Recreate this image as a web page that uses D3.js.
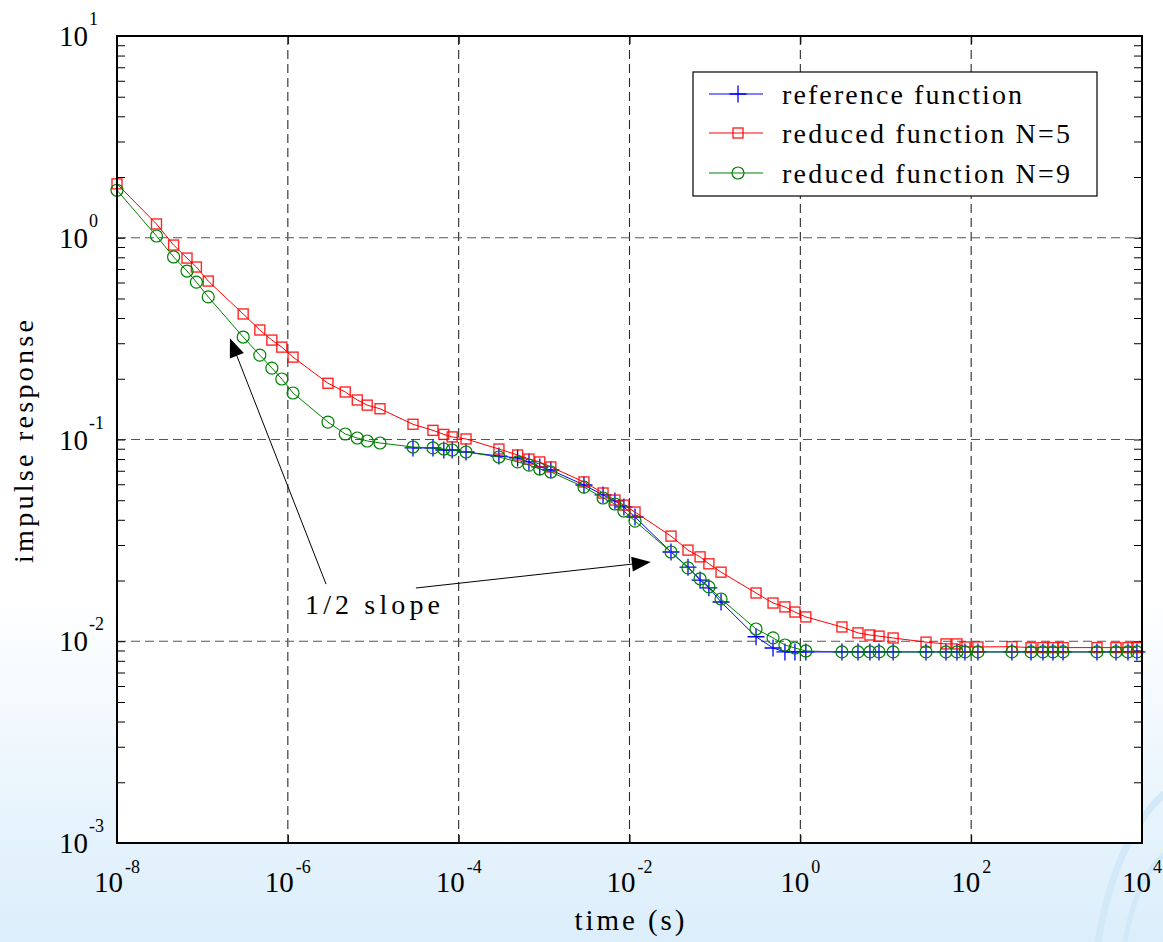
<!DOCTYPE html>
<html><head><meta charset="utf-8">
<script src="https://cdn.jsdelivr.net/npm/d3@7"></script>
<style>body{margin:0;background:#fff;} text{font-family:"Liberation Serif","Times New Roman",serif;fill:#000;}</style>
</head><body><svg id="chart" width="1163" height="942" font-family="Liberation Serif, Times New Roman, serif"></svg>
<script>
// ---- data ----
const timeValues = [
  1e-8, 2.9e-8, 4.6e-8, 6.6e-8, 8.5e-8,
  1.17e-7, 3.0e-7, 4.7e-7, 6.5e-7, 8.5e-7,
  1.15e-6, 2.95e-6, 4.7e-6, 6.5e-6, 8.5e-6,
  1.2e-5, 2.92e-5, 5.0e-5, 6.7e-5, 8.4e-5,
  1.22e-4, 2.96e-4, 4.9e-4, 6.65e-4, 8.9e-4,
  1.2e-3, 2.93e-3, 4.9e-3, 6.75e-3, 8.6e-3,
  1.16e-2, 3.06e-2, 4.84e-2, 6.7e-2, 8.5e-2,
  0.118, 0.303, 0.479, 0.66, 0.865,
  1.16, 3.07, 4.73, 6.53, 8.34,
  12.2, 29.6, 50.7, 68.2, 84.6,
  120, 300, 502, 692, 907,
  1190, 2970, 4960, 6850, 8720
];
const refValues = [
  null, null, null, null, null,
  null, null, null, null, null,
  null, null, null, null, null,
  null, 0.0908, 0.0908, 0.0887, 0.0887,
  0.0867, 0.0828, 0.081, 0.0774, 0.0731,
  0.0706, 0.0595, 0.0531, 0.0496, 0.0463,
  0.0413, 0.0277, 0.0233, 0.0201, 0.0184,
  0.01565, 0.01053, 0.00926, 0.00885, 0.00885,
  0.00885, 0.00885, 0.00885, 0.00885, 0.00885,
  0.00885, 0.00885, 0.00885, 0.00885, 0.00885,
  0.00885, 0.00885, 0.00885, 0.00885, 0.00885,
  0.00885, 0.00885, 0.00885, 0.00885, 0.00885
];
const n5Values = [
  1.85, 1.17, 0.92, 0.793, 0.716,
  0.61, 0.419, 0.349, 0.311, 0.287,
  0.256, 0.19, 0.172, 0.157, 0.148,
  0.142, 0.119, 0.111, 0.106, 0.103,
  0.1006, 0.0897, 0.0838, 0.080, 0.0774,
  0.0731, 0.0616, 0.0543, 0.0501, 0.0473,
  0.0437, 0.0332, 0.0283, 0.0262, 0.0242,
  0.022, 0.01735, 0.01547, 0.0148, 0.01396,
  0.0132, 0.01177, 0.011, 0.01074, 0.0106,
  0.01038, 0.0099, 0.0097, 0.0097, 0.00937,
  0.00937, 0.0094, 0.0093, 0.0093, 0.0093,
  0.0093, 0.0093, 0.0093, 0.0093, 0.0093
];
const n9Values = [
  1.72, 1.02, 0.803, 0.684, 0.603,
  0.509, 0.322, 0.262, 0.226, 0.1995,
  0.170, 0.122, 0.1065, 0.1017, 0.0983,
  0.0961, 0.0918, 0.0908, 0.0897, 0.0887,
  0.0867, 0.0819, 0.0774, 0.0747, 0.0714,
  0.069, 0.0581, 0.0513, 0.0479, 0.0442,
  0.0394, 0.0277, 0.0231, 0.0204, 0.0186,
  0.0162, 0.0115, 0.0104, 0.00958, 0.00926,
  0.00895, 0.00885, 0.00885, 0.00885, 0.00885,
  0.00885, 0.00885, 0.00885, 0.00885, 0.00885,
  0.00885, 0.00885, 0.00885, 0.00885, 0.00885,
  0.00885, 0.00885, 0.00885, 0.00885, 0.00885
];
const xTickExponents = [-8, -6, -4, -2, 0, 2, 4];
const yTickExponents = [-3, -2, -1, 0, 1];
const seriesLabels = ["reference function", "reduced function N=5", "reduced function N=9"];
const xAxisTitle = "time (s)";
const yAxisTitle = "impulse response";
const annotationText = "1/2 slope";
// annotation arrows in data coordinates: [tail, tip]
const annotationArrows = [
  [[2.8e-6, 0.0192], [2.1e-7, 0.318]],
  [[3.16e-5, 0.01836], [0.0178, 0.0247]]
];
const annotationTextAt = [1.59e-6, 0.01365];

// ---- drawing ----
const W = 1163, H = 942;
const L = 117, R = 1142, T = 36, B = 843;
const FONT = "Liberation Serif, Times New Roman, serif";
const svg = d3.select("#chart");

const defs = svg.append("defs");
const grad = defs.append("linearGradient").attr("id", "bg").attr("x1", 0).attr("y1", 0).attr("x2", 0).attr("y2", 1);
grad.append("stop").attr("offset", "0").attr("stop-color", "#ffffff");
grad.append("stop").attr("offset", "0.63").attr("stop-color", "#ffffff");
grad.append("stop").attr("offset", "0.9").attr("stop-color", "#e4f2fc");
grad.append("stop").attr("offset", "1").attr("stop-color", "#dceefb");
svg.append("rect").attr("width", W).attr("height", H).attr("fill", "url(#bg)");

// decorative faint swoosh bottom-right
const deco = svg.append("g").attr("fill", "none").attr("stroke", "#d2e9f9").attr("stroke-linecap", "round");
deco.append("path").attr("d", "M1098,942 C1110,870 1135,820 1163,795").attr("stroke-width", 7);
deco.append("path").attr("d", "M1125,942 C1132,900 1146,870 1163,855").attr("stroke-width", 5);

const x = d3.scaleLog().domain([1e-8, 1e4]).range([L, R]);
const y = d3.scaleLog().domain([1e-3, 1e1]).range([B, T]);

svg.append("rect").attr("x", L).attr("y", T).attr("width", R - L).attr("height", B - T).attr("fill", "#fff");

const xMajors = xTickExponents.map(e => Math.pow(10, e));
const yMajors = yTickExponents.map(e => Math.pow(10, e));
const yMinors = [];
for (let e = -3; e < 1; e++) for (let m = 2; m <= 9; m++) yMinors.push(m * Math.pow(10, e));

// grid
const grid = svg.append("g").attr("stroke-width", 1.1).attr("stroke-dasharray", "9,5");
grid.selectAll("line.gx").data(xMajors.slice(1, -1)).join("line").attr("stroke", "#2a2a2a")
  .attr("x1", d => x(d)).attr("x2", d => x(d)).attr("y1", T).attr("y2", B);
grid.selectAll("line.gy").data(yMajors.slice(1, -1)).join("line").attr("stroke", "#555")
  .attr("y1", d => y(d)).attr("y2", d => y(d)).attr("x1", L).attr("x2", R);

// axes ticks (inward)
function styleAxis(g) { g.select(".domain").remove(); g.selectAll("text").remove(); g.selectAll("line").attr("stroke", "#000"); }
svg.append("g").attr("transform", `translate(${L},0)`).call(d3.axisLeft(y).tickValues(yMinors.concat(yMajors)).tickSize(-8)).call(styleAxis);
svg.append("g").attr("transform", `translate(${R},0)`).call(d3.axisRight(y).tickValues(yMinors.concat(yMajors)).tickSize(-8)).call(styleAxis);
svg.append("g").attr("transform", `translate(0,${B})`).call(d3.axisBottom(x).tickValues(xMajors).tickSize(-8)).call(styleAxis);
svg.append("g").attr("transform", `translate(0,${T})`).call(d3.axisTop(x).tickValues(xMajors).tickSize(-8)).call(styleAxis);

// tick labels
const yl = svg.append("g").attr("font-family", FONT);
yTickExponents.forEach(e => {
  const t = yl.append("text").attr("x", 59).attr("y", y(Math.pow(10, e)) + 10).attr("font-size", 29);
  t.append("tspan").text("10");
  t.append("tspan").attr("dx", 1).attr("dy", -21).attr("font-size", 18).text(String(e));
});
const xl = svg.append("g").attr("font-family", FONT);
xTickExponents.forEach(e => {
  const t = xl.append("text").attr("x", x(Math.pow(10, e))).attr("y", 892).attr("text-anchor", "middle").attr("font-size", 29);
  t.append("tspan").text("10");
  t.append("tspan").attr("dx", 2).attr("dy", -19).attr("font-size", 18).text(String(e));
});

// axis titles
svg.append("text").attr("font-family", FONT).attr("x", 629.5).attr("y", 930).attr("text-anchor", "middle").attr("font-size", 29)
  .attr("textLength", 110).attr("lengthAdjust", "spacing").text(xAxisTitle);
svg.append("text").attr("font-family", FONT).attr("transform", `translate(33,${(T + B) / 2 + 2}) rotate(-90)`).attr("text-anchor", "middle").attr("font-size", 28)
  .attr("textLength", 243).attr("lengthAdjust", "spacing").text(yAxisTitle);

// series
const series = [
  { label: seriesLabels[0], values: refValues, color: "#0000ff", marker: "plus" },
  { label: seriesLabels[1], values: n5Values, color: "#ff0000", marker: "square" },
  { label: seriesLabels[2], values: n9Values, color: "#008000", marker: "circle" }
];
const line = d3.line().x(d => x(d.t)).y(d => y(d.v));

function drawMarker(g, type, color) {
  if (type === "plus") g.append("path").attr("d", "M-8.5,0H8.5M0,-8.5V8.5").attr("stroke", color).attr("stroke-width", 1.3).attr("fill", "none");
  else if (type === "square") g.append("rect").attr("x", -5).attr("y", -5).attr("width", 10).attr("height", 10).attr("fill", "none").attr("stroke", color).attr("stroke-width", 1.4).attr("stroke-opacity", 0.85);
  else g.append("circle").attr("r", 6).attr("fill", "none").attr("stroke", color).attr("stroke-width", 1.2);
}

series.forEach(s => {
  const pts = timeValues.map((t, i) => ({ t, v: s.values[i] })).filter(d => d.v != null);
  const g = svg.append("g");
  g.append("path").datum(pts).attr("d", line).attr("fill", "none").attr("stroke", s.color).attr("stroke-width", 1);
  g.selectAll("g.m").data(pts).join("g").attr("transform", d => `translate(${x(d.t)},${y(d.v)})`)
    .each(function () { drawMarker(d3.select(this), s.marker, s.color); });
});

// annotation
const ann = svg.append("g");
annotationArrows.forEach(([tail, tip]) => {
  const x0 = x(tail[0]), y0 = y(tail[1]), x1 = x(tip[0]), y1 = y(tip[1]);
  const dx = x1 - x0, dy = y1 - y0, len = Math.hypot(dx, dy), ux = dx / len, uy = dy / len;
  const hl = 19, hw = 7.5;
  const bx = x1 - ux * hl, by = y1 - uy * hl;
  ann.append("line").attr("x1", x0).attr("y1", y0).attr("x2", bx).attr("y2", by).attr("stroke", "#000").attr("stroke-width", 1);
  ann.append("path").attr("d", `M${x1},${y1}L${bx - uy * hw},${by + ux * hw}L${bx + uy * hw},${by - ux * hw}Z`).attr("fill", "#000");
});
ann.append("text").attr("font-family", FONT).attr("x", x(annotationTextAt[0])).attr("y", y(annotationTextAt[1])).attr("font-size", 28)
  .attr("textLength", 135).attr("lengthAdjust", "spacing").text(annotationText);

// frame
svg.append("rect").attr("x", L).attr("y", T).attr("width", R - L).attr("height", B - T).attr("fill", "none").attr("stroke", "#000").attr("stroke-width", 2);

// legend
const lg = svg.append("g");
lg.append("rect").attr("x", 693).attr("y", 72).attr("width", 404).attr("height", 124).attr("fill", "#fff").attr("stroke", "#000").attr("stroke-width", 1.2);
const rowY = [94, 133, 173];
series.forEach((s, i) => {
  const row = lg.append("g").attr("transform", `translate(0,${rowY[i]})`);
  row.append("line").attr("x1", 709).attr("x2", 763).attr("y1", 0).attr("y2", 0).attr("stroke", s.color).attr("stroke-width", 1);
  drawMarker(row.append("g").attr("transform", "translate(738,0)"), s.marker, s.color);
  row.append("text").attr("font-family", FONT).attr("x", 782).attr("y", 10).attr("font-size", 28)
    .attr("textLength", i === 0 ? 240 : 288).attr("lengthAdjust", "spacing").text(s.label);
});
</script></body></html>
